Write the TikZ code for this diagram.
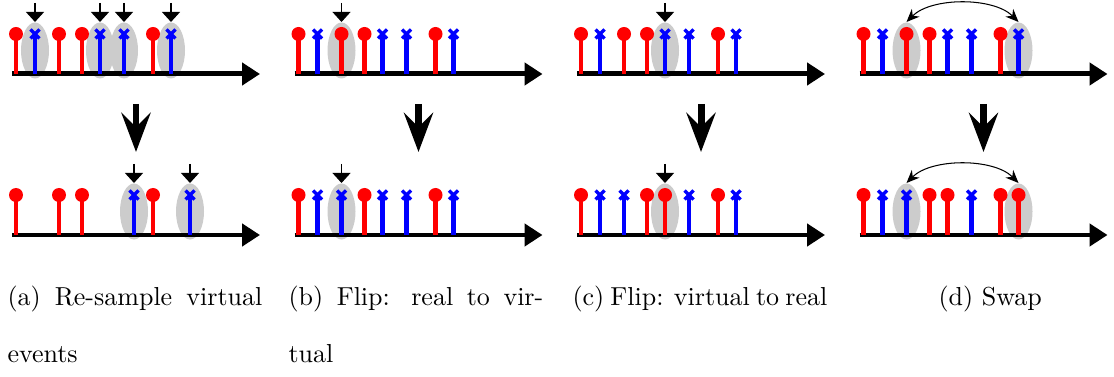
\documentclass[tikz,border=0pt]{standalone}
\usetikzlibrary{arrows.meta,shapes.geometric}
\tikzset{
  axisline/.style={line width=1.92pt,-{Triangle[length=6.92pt,width=8.46pt]}},
  redstem/.style={red,line width=1.73pt},
  bluestem/.style={blue,line width=1.73pt},
  crossline/.style={blue,line width=1.35pt},
  hilite/.style={ellipse,fill=black!20,minimum width=10.77pt,minimum height=21.54pt,inner sep=0pt},
  pointer/.style={line width=0.4pt,-{Triangle[length=3.85pt,width=6.92pt]}},
  bigarrow/.style={line width=2.69pt,-{Stealth[length=15pt,width=11.15pt,inset=5.4pt]}},
  swaparrow/.style={line width=0.4pt,{Stealth[length=5pt,width=4.2pt]}-{Stealth[length=5pt,width=4.2pt]}},
  captext/.style={anchor=base west,inner sep=0pt},
  realev/.pic={\draw[redstem] (0,0) -- (0,-40); \fill[red] (0,-40) circle[radius=7];},
  virtev/.pic={\draw[bluestem] (0,0) -- (0,-40); \draw[crossline] (-4.5,-44.5) -- (4.5,-35.5) (-4.5,-35.5) -- (4.5,-44.5);}
}
\begin{document}
\begin{tikzpicture}[x=0.3846pt,y=-0.3846pt]
\useasboundingbox (0,0) rectangle (1114,377);

% ---------- highlight ellipses ----------
% panel a
\node[hilite] (aT1) at (35,50.5) {};
\node[hilite] (aT2) at (100,50.5) {};
\node[hilite] (aT3) at (124,50.5) {};
\node[hilite] (aT4) at (171,50.5) {};
\node[hilite] (aB1) at (134,211.5) {};
\node[hilite] (aB2) at (190,211.5) {};
% panel b
\node[hilite] (bT1) at (282.5+59,50.5) {};
\node[hilite] (bB1) at (282.5+59,211.5) {};
% panel c
\node[hilite] (cT1) at (565+100,50.5) {};
\node[hilite] (cB1) at (565+100,211.5) {};
% panel d
\node[hilite] (dT1) at (847.5+59,50.5) {};
\node[hilite] (dT2) at (847.5+171,50.5) {};
\node[hilite] (dB1) at (847.5+59,211.5) {};
\node[hilite] (dB2) at (847.5+171,211.5) {};

% ---------- axes ----------
\foreach \ox/\p in {0/a,282.5/b,565/c,847.5/d}{
  \coordinate (\p TS) at (\ox+12,74);
  \coordinate (\p TE) at (\ox+260,74);
  \coordinate (\p BS) at (\ox+12,235);
  \coordinate (\p BE) at (\ox+260,235);
  \draw[axisline] (\p TS) -- (\p TE);
  \draw[axisline] (\p BS) -- (\p BE);
  \coordinate (\p A1) at (\ox+136,104);
  \coordinate (\p A2) at (\ox+136,152);
  \draw[bigarrow] (\p A1) -- (\p A2);
}

% ---------- events ----------
% top rows (same in all panels)
\foreach \ox in {0,282.5,565,847.5}{
  \foreach \x in {16,59,82,153} \pic at (\ox+\x,74) {realev};
  \foreach \x in {35,100,124,171} \pic at (\ox+\x,74) {virtev};
}
% bottom rows
\foreach \x in {16,59,82,153} \pic at (\x,235) {realev};
\foreach \x in {134,190} \pic at (\x,235) {virtev};

\foreach \x in {16,82,153} \pic at (282.5+\x,235) {realev};
\foreach \x in {35,59,100,124,171} \pic at (282.5+\x,235) {virtev};

\foreach \x in {16,82,100,153} \pic at (565+\x,235) {realev};
\foreach \x in {35,59,124,171} \pic at (565+\x,235) {virtev};

\foreach \x in {16,82,100,153,171} \pic at (847.5+\x,235) {realev};
\foreach \x in {35,59,124} \pic at (847.5+\x,235) {virtev};

% ---------- pointers ----------
\foreach \n in {aT1,aT2,aT3,aT4,aB1,aB2,bT1,bB1,cT1,cB1}{
  \draw[pointer] ([yshift=7.3pt]\n.north) -- (\n.north);
}

% ---------- swap arrows ----------
\draw[swaparrow] (dT1.north) .. controls +(25,-25) and +(-25,-25) .. (dT2.north);
\draw[swaparrow] (dB1.north) .. controls +(25,-25) and +(-25,-25) .. (dB2.north);

% ---------- captions ----------
\node[captext] (capa1) at (7,305) {\makebox[98pt][s]{(a) Re-sample virtual}};
\node[captext] (capa2) at (7,363) {events};
\node[captext] (capb1) at (288,305) {\makebox[98pt][s]{(b) Flip: real to vir-}};
\node[captext] (capb2) at (288,363) {tual};
\node[captext] (capc1) at (572,305) {\makebox[98pt][s]{(c) Flip: virtual to real}};
\node[captext] (capd1) at (938,305) {(d) Swap};
\end{tikzpicture}
\end{document}
